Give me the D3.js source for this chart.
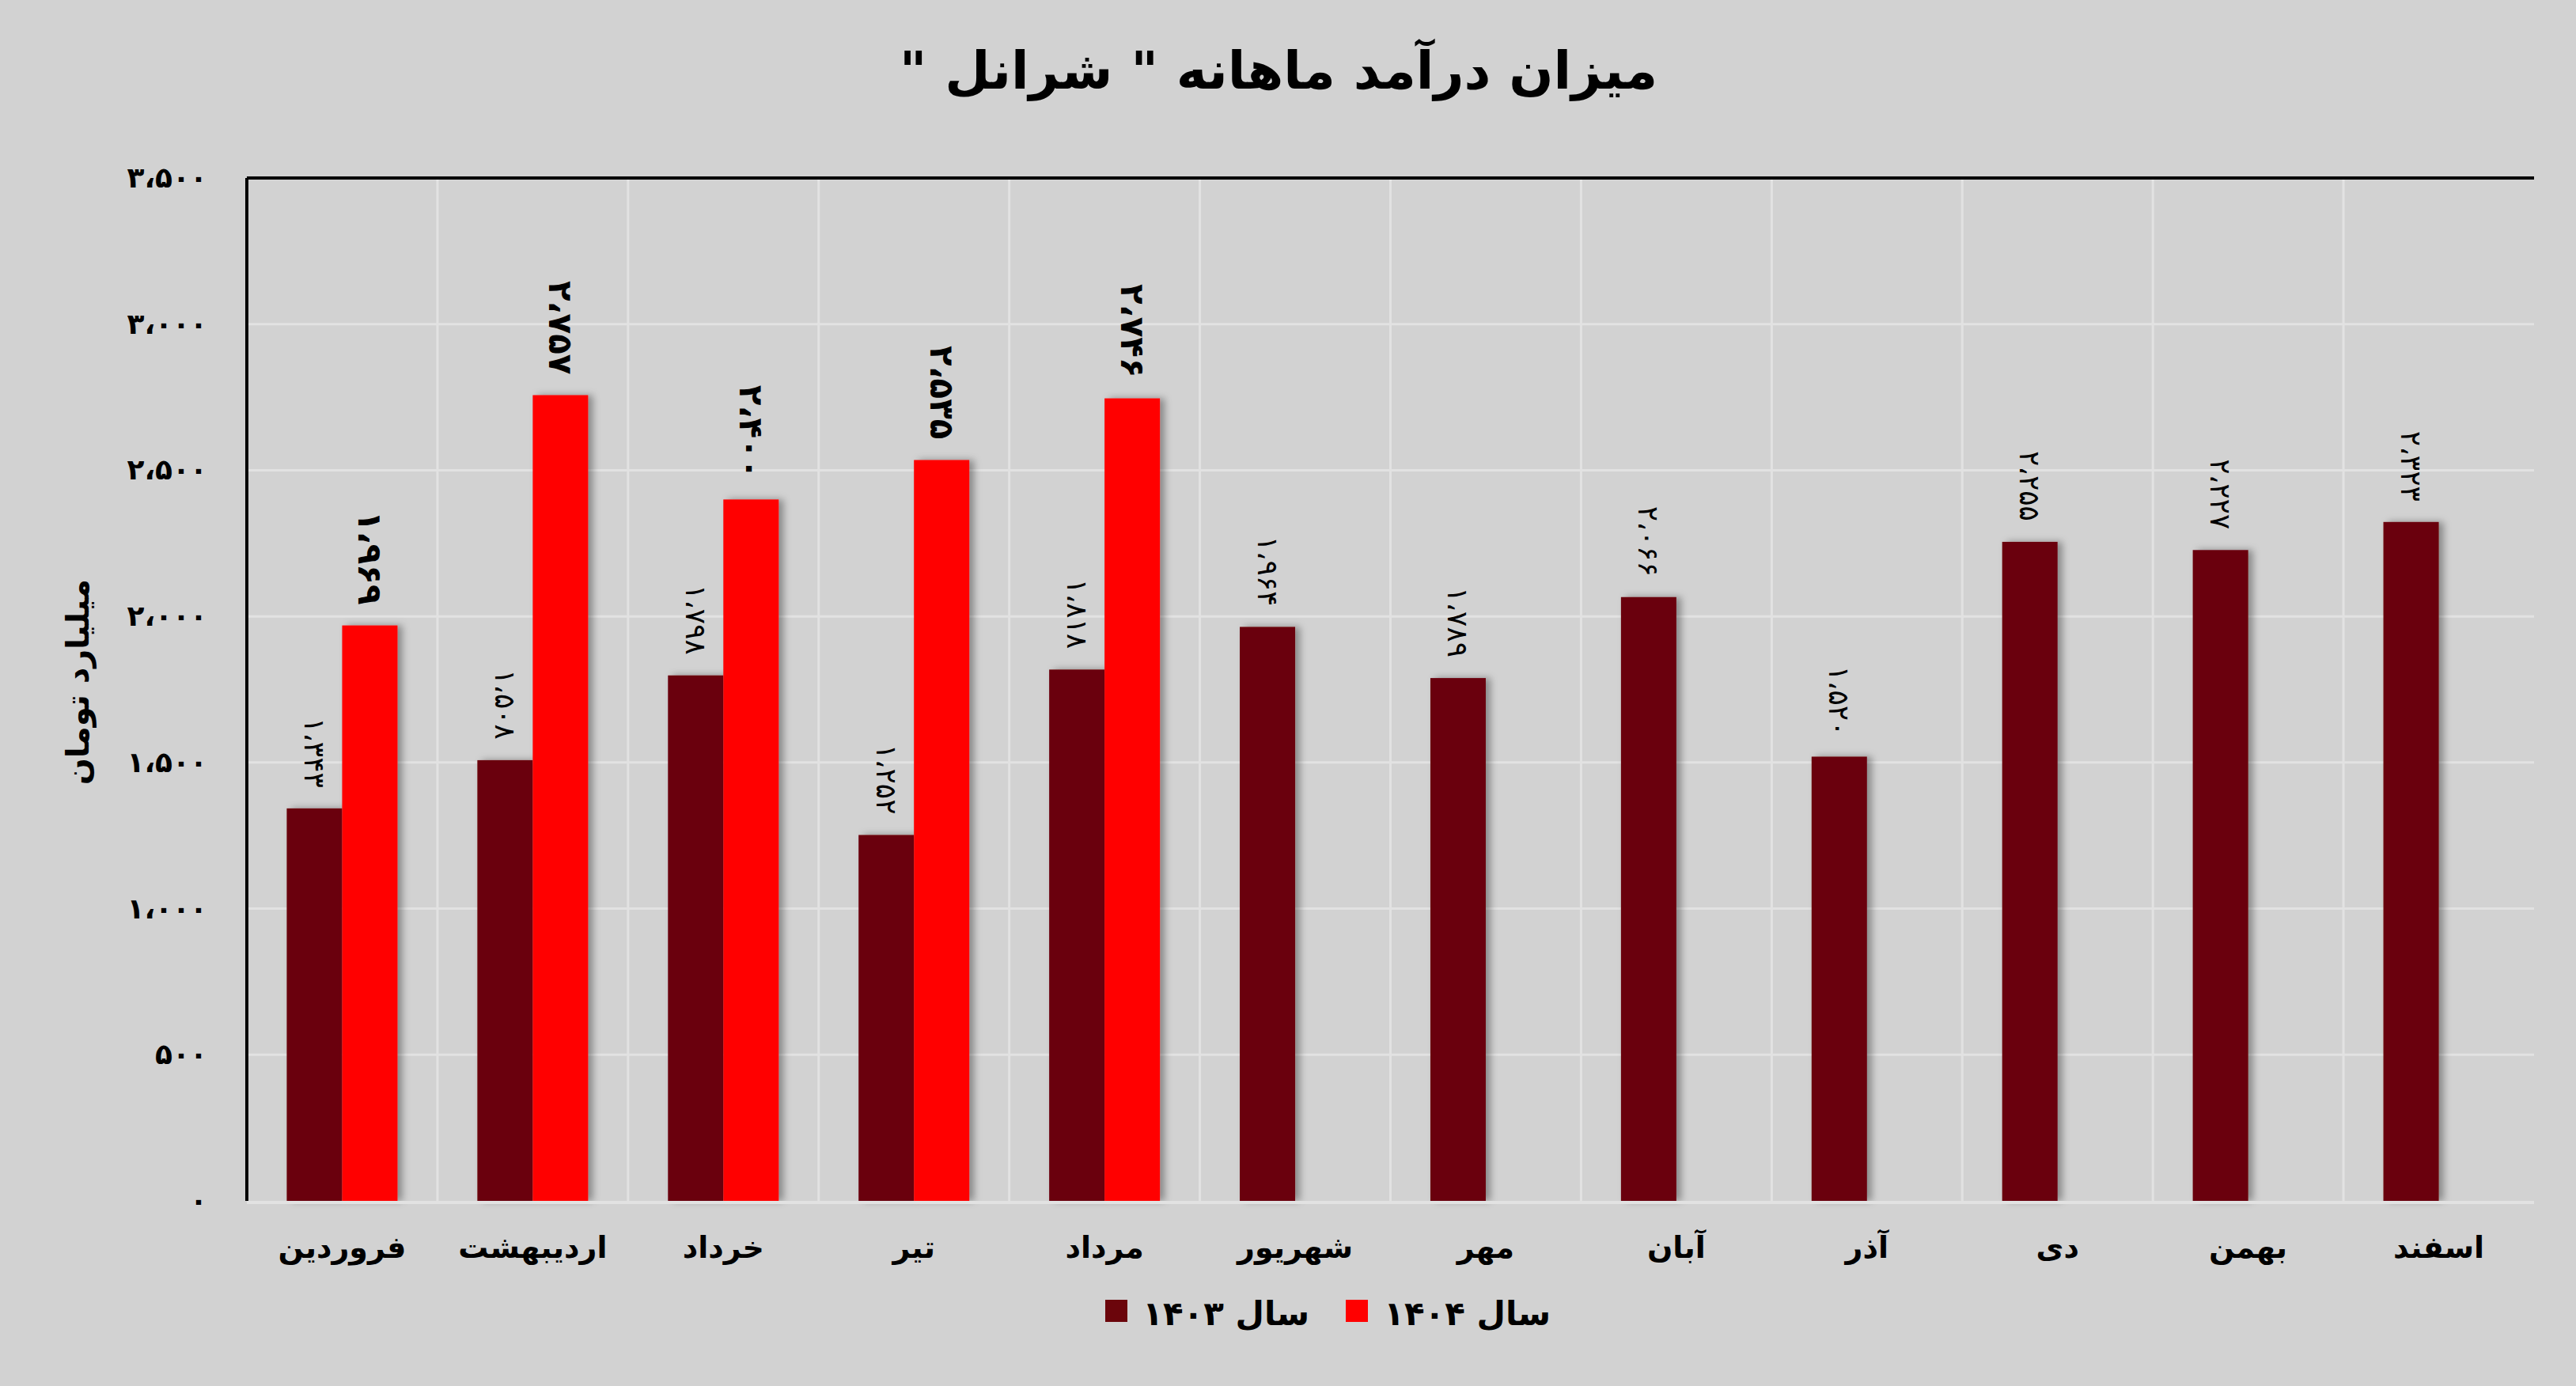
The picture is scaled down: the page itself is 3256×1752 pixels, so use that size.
<!DOCTYPE html>
<html><head><meta charset="utf-8">
<script src="https://cdn.jsdelivr.net/npm/d3@7"></script>
<style>body{margin:0;background:#d2d2d2;}svg{display:block;font-family:"DejaVu Sans",sans-serif;}</style>
</head><body>
<svg id="c" width="3256" height="1752"></svg>
<script>
const months = ["فروردین","اردیبهشت","خرداد","تیر","مرداد","شهریور","مهر","آبان","آذر","دی","بهمن","اسفند"];
const v1403 = [1343,1508,1798,1252,1818,1964,1789,2066,1520,2255,2227,2323];
const v1404 = [1969,2757,2400,2535,2746,null,null,null,null,null,null,null];
const yTicks = [0,500,1000,1500,2000,2500,3000,3500];
const seriesNames = ["سال ۱۴۰۳","سال ۱۴۰۴"];
const colors = ["#6b050b","#ff0000"];

const fa = s => String(s).replace(/\d/g,d=>"۰۱۲۳۴۵۶۷۸۹"[d]);
const fmt = v => fa(d3.format(",")(v)).replace(/,/g,"،");

const svg = d3.select("#c");
const L=312,R=3203,T=225,B=1518;
const defs = svg.append("defs");
const f = defs.append("filter").attr("id","sh").attr("x","-20%").attr("width","150%");
f.append("feDropShadow").attr("dx",6).attr("dy",0).attr("stdDeviation",5).attr("flood-color","#000").attr("flood-opacity",0.35);

const x = d3.scaleBand().domain(months).range([L,R]);
const y = d3.scaleLinear().domain([0,3500]).range([B,T]);
const bw = 70;

// gridlines
svg.append("g").selectAll("line.h").data(yTicks.slice(1)).join("line")
  .attr("x1",L).attr("x2",R).attr("y1",d=>y(d)).attr("y2",d=>y(d)).attr("stroke","#e2e2e2").attr("stroke-width",3);
svg.append("g").selectAll("line.v").data(months.slice(1)).join("line")
  .attr("x1",d=>x(d)).attr("x2",d=>x(d)).attr("y1",T).attr("y2",B).attr("stroke","#e2e2e2").attr("stroke-width",3);

// bars
const gb = svg.append("g");
months.forEach((m,i)=>{
  const c = x(m)+x.bandwidth()/2;
  [[v1403[i],0],[v1404[i],1]].forEach(([v,s])=>{
    if(v==null) return;
    const bx = c - bw + s*bw;
    gb.append("rect").attr("x",bx).attr("y",y(v)).attr("width",bw).attr("height",B-y(v))
      .attr("fill",colors[s]).attr("filter","url(#sh)");
    gb.append("text").attr("transform",`translate(${bx+bw/2},${y(v)-26}) rotate(90)`)
      .attr("text-anchor","end").attr("dominant-baseline","central").attr("direction","ltr")
      .attr("font-size",s?42:36).attr("font-weight",s?"bold":"normal").attr("fill","#000")
      .text(fmt(v));
  });
});

// axes lines
svg.append("line").attr("x1",L).attr("x2",L).attr("y1",T).attr("y2",B).attr("stroke","#000").attr("stroke-width",4);
svg.append("line").attr("x1",L).attr("x2",R).attr("y1",T).attr("y2",T).attr("stroke","#000").attr("stroke-width",4);
svg.append("line").attr("x1",L).attr("x2",R).attr("y1",B+2).attr("y2",B+2).attr("stroke","#e2e2e2").attr("stroke-width",4);

// y ticks
const ya = svg.append("g").attr("transform",`translate(${L},0)`).call(d3.axisLeft(y).tickValues(yTicks).tickSize(0).tickPadding(50).tickFormat(fmt));
ya.select(".domain").remove();
ya.selectAll("text").attr("font-size",36).attr("font-weight","bold").attr("fill","#000").attr("font-family","DejaVu Sans");

// x labels
const xa = svg.append("g").attr("transform",`translate(0,${B})`).call(d3.axisBottom(x).tickSize(0).tickPadding(45));
xa.select(".domain").remove();
xa.selectAll("text").attr("font-size",38).attr("font-weight","bold").attr("fill","#000").attr("font-family","DejaVu Sans");

// title
svg.append("text").attr("x",1616).attr("y",112).attr("text-anchor","middle").attr("font-size",66).attr("font-weight","bold")
  .attr("direction","rtl").text('میزان درآمد ماهانه " شرانل "');
// y title
svg.append("text").attr("transform","translate(112,862) rotate(-90)").attr("text-anchor","middle").attr("font-size",40).attr("font-weight","bold")
  .attr("direction","rtl").text("میلیارد تومان");

// legend
const lg = [[1397,1655],[1701,1960]];
seriesNames.forEach((n,i)=>{
  svg.append("rect").attr("x",lg[i][0]).attr("y",1643).attr("width",28).attr("height",28).attr("fill",colors[i]);
  svg.append("text").attr("x",lg[i][1]).attr("y",1660).attr("text-anchor","end").attr("dominant-baseline","central")
    .attr("font-size",42).attr("font-weight","bold").text(n);
});
</script>
</body></html>
